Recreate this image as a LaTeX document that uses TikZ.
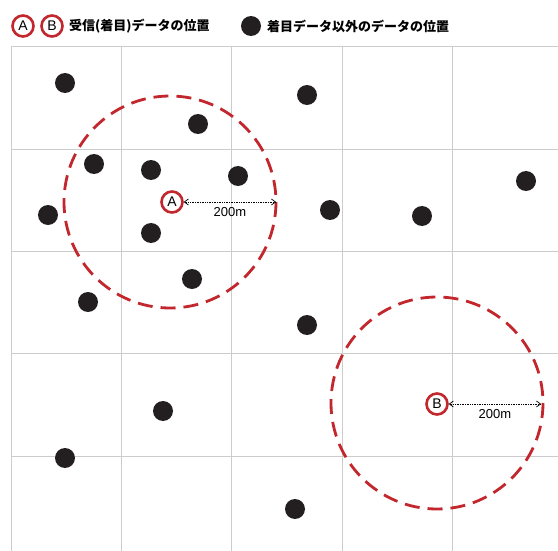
\documentclass[tikz,border=0pt]{standalone}
\usepackage{fontspec}
\setmainfont{Liberation Sans}
\newfontfamily\jpfont{Noto Sans CJK JP}
\usetikzlibrary{arrows.meta}
\definecolor{dred}{HTML}{C1272D}
\definecolor{dot}{HTML}{231F20}
\definecolor{gridc}{HTML}{CCCCCC}
\tikzset{
  x=1pt,y=-1pt,
  gridline/.style={draw=gridc,line width=0.8pt},
  datadot/.style={circle,fill=dot,minimum size=20pt,inner sep=0pt},
  focus/.style={circle,draw=dred,line width=2.6pt,fill=white,minimum size=21pt,inner sep=0pt,font=\fontsize{14}{14}\selectfont},
  rangecirc/.style={draw=dred,line width=2.8pt,dash pattern=on 15pt off 8pt},
  meas/.style={densely dotted,line width=0.7pt,{Straight Barb[length=4pt,width=6pt]}-{Straight Barb[length=4pt,width=6pt]}},
  lab/.style={font=\fontsize{13}{13}\selectfont},
  legend/.style={anchor=west,inner sep=0pt,font=\jpfont\bfseries\fontsize{13}{13}\selectfont}
}
\begin{document}
\begin{tikzpicture}
\useasboundingbox (0,0) rectangle (558,551);
% grid
\foreach \y in {46,149,251,353,456} \draw[gridline] (11,\y) -- (558,\y);
\foreach \x in {11,121,231,342,452} \draw[gridline] (\x,46) -- (\x,551);
% range circles
\draw[rangecirc] (170,202) circle[radius=106];
\draw[rangecirc] (437,403) circle[radius=106];
% data dots
\foreach \p/\n in {{(65,83)}/d1,{(198,124)}/d2,{(307,95)}/d3,{(94,164)}/d4,{(151,170)}/d5,{(238,176)}/d6,{(48,215)}/d7,{(330,210)}/d8,{(422,216)}/d9,{(526,181)}/d10,{(151,233)}/d11,{(192,279)}/d12,{(88,302)}/d13,{(307,325)}/d14,{(163,411)}/d15,{(65,458)}/d16,{(295,509)}/d17}
  \node[datadot] (\n) at \p {};
% focus points
\node[focus] (A) at (172,202) {A};
\node[focus] (B) at (437,404) {B};
\coordinate (Ae) at (276,202);
\coordinate (Be) at (541,404);
\draw[meas] (A.east) -- (Ae) node[lab,midway,below=2pt] (la) {200m};
\draw[meas] (B.east) -- (Be) node[lab,midway,below=2pt] (lb) {200m};
% legend
\node[focus] (LA) at (23,26) {A};
\node[focus] (LB) at (52,26) {B};
\node[legend] (LT1) at (69,26) {受信(着目)データの位置};
\node[datadot] (LD) at (251,26) {};
\node[legend] (LT2) at (267,26) {着目データ以外のデータの位置};
\end{tikzpicture}
\end{document}
